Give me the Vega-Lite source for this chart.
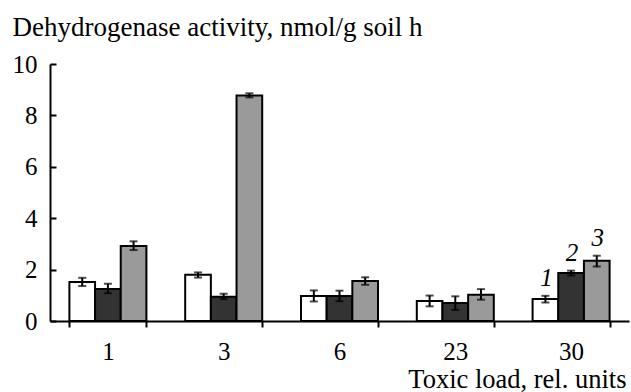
{
  "$schema": "https://vega.github.io/schema/vega-lite/v6.json",
  "autosize": "none",
  "width": 579,
  "height": 257,
  "padding": {"left": 50, "top": 64, "right": 2, "bottom": 71},
  "background": "white",
  "config": {
    "font": "Liberation Serif",
    "view": {"stroke": null},
    "axis": {"domainColor": "black", "domainWidth": 2, "tickColor": "black", "tickWidth": 2, "labelColor": "black", "titleColor": "black", "labelFont": "Liberation Serif", "titleFont": "Liberation Serif", "labelFontSize": 25, "titleFontSize": 26, "titleFontWeight": "normal", "grid": false}
  },
  "data": {
    "values": [
      {"load": "1", "series": "1", "value": 1.52, "lo": 1.36, "hi": 1.68},
      {"load": "1", "series": "2", "value": 1.25, "lo": 1.08, "hi": 1.45},
      {"load": "1", "series": "3", "value": 2.92, "lo": 2.76, "hi": 3.1},
      {"load": "3", "series": "1", "value": 1.8, "lo": 1.69, "hi": 1.89},
      {"load": "3", "series": "2", "value": 0.94, "lo": 0.85, "hi": 1.06},
      {"load": "3", "series": "3", "value": 8.77, "lo": 8.7, "hi": 8.86},
      {"load": "6", "series": "1", "value": 0.97, "lo": 0.76, "hi": 1.19},
      {"load": "6", "series": "2", "value": 0.97, "lo": 0.77, "hi": 1.18},
      {"load": "6", "series": "3", "value": 1.56, "lo": 1.41, "hi": 1.7},
      {"load": "23", "series": "1", "value": 0.78, "lo": 0.57, "hi": 0.99},
      {"load": "23", "series": "2", "value": 0.7, "lo": 0.43, "hi": 0.96},
      {"load": "23", "series": "3", "value": 1.02, "lo": 0.83, "hi": 1.24},
      {"load": "30", "series": "1", "value": 0.86, "lo": 0.72, "hi": 0.98, "label": "1"},
      {"load": "30", "series": "2", "value": 1.87, "lo": 1.77, "hi": 1.96, "label": "2"},
      {"load": "30", "series": "3", "value": 2.34, "lo": 2.12, "hi": 2.54, "label": "3"}
    ]
  },
  "encoding": {
    "x": {
      "field": "load", "type": "nominal", "sort": ["1", "3", "6", "23", "30"],
      "scale": {"paddingInner": 0.335, "paddingOuter": 0.1675},
      "axis": {"labelAngle": 0, "tickBand": "extent", "tickSize": 6, "labelBaseline": "alphabetic", "labelPadding": 32, "title": "Toxic load, rel. units", "titleFontSize": 26.5, "titleAngle": 0, "titleAlign": "right", "titleBaseline": "alphabetic", "titleX": 576, "titleY": 66}
    },
    "xOffset": {"field": "series", "type": "nominal", "scale": {"paddingInner": 0, "paddingOuter": 0}}
  },
  "layer": [
    {
      "mark": {"type": "bar", "stroke": "black", "strokeWidth": 2},
      "encoding": {
        "y": {
          "field": "value", "type": "quantitative",
          "scale": {"domain": [0, 10], "nice": false},
          "axis": {"values": [0, 2, 4, 6, 8, 10], "tickSize": -6, "labelPadding": 19, "title": "Dehydrogenase activity, nmol/g soil h", "titleFontSize": 27, "titleAngle": 0, "titleAlign": "left", "titleBaseline": "alphabetic", "titleX": -38, "titleY": -29}
        },
        "fill": {"field": "series", "type": "nominal", "scale": {"domain": ["1", "2", "3"], "range": ["#ffffff", "#333333", "#9a9a9a"]}, "legend": null}
      }
    },
    {
      "mark": {"type": "rule", "color": "black", "strokeWidth": 2},
      "encoding": {"y": {"field": "lo", "type": "quantitative"}, "y2": {"field": "hi"}}
    },
    {
      "mark": {"type": "tick", "color": "black", "thickness": 2, "size": 8, "orient": "horizontal"},
      "encoding": {"y": {"field": "lo", "type": "quantitative"}}
    },
    {
      "mark": {"type": "tick", "color": "black", "thickness": 2, "size": 8, "orient": "horizontal"},
      "encoding": {"y": {"field": "hi", "type": "quantitative"}}
    },
    {
      "transform": [{"filter": "datum.label != null"}],
      "mark": {"type": "text", "font": "Liberation Serif", "fontStyle": "italic", "fontSize": 25, "baseline": "alphabetic", "dy": -10, "dx": 1, "color": "black"},
      "encoding": {"y": {"field": "hi", "type": "quantitative"}, "text": {"field": "label"}}
    }
  ]
}
